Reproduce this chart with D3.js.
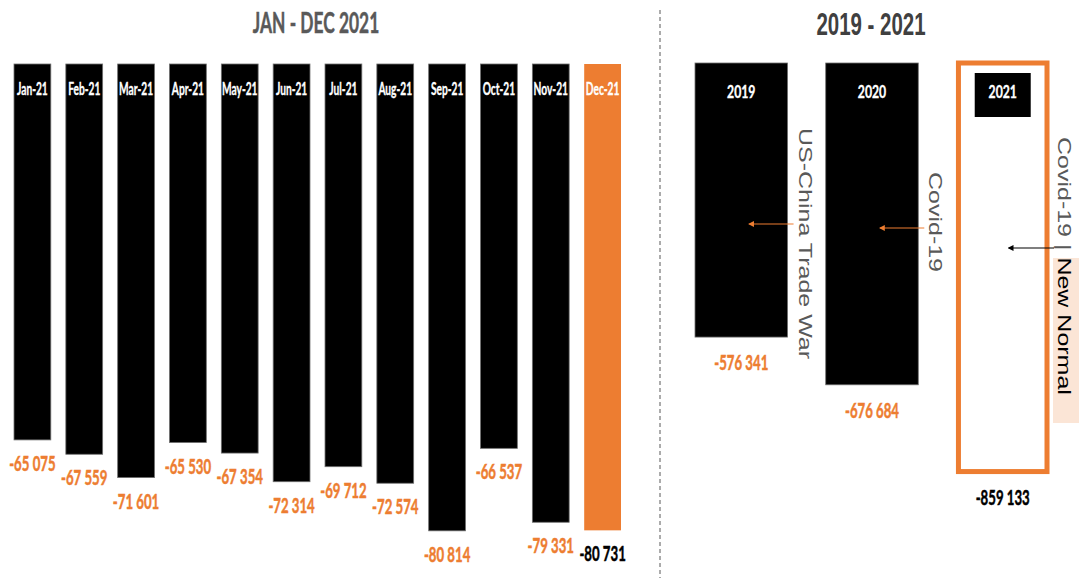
<!DOCTYPE html>
<html>
<head>
<meta charset="utf-8">
<script src="https://cdn.jsdelivr.net/npm/d3@7"></script>
<style>
  body { margin: 0; background: #fff; }
  svg { display: block; }
</style>
</head>
<body>
<div id="chart"></div>
<script>
// monthly values, Jan - Dec 2021
let months = ['Jan-21', 'Feb-21', 'Mar-21', 'Apr-21', 'May-21', 'Jun-21', 'Jul-21', 'Aug-21', 'Sep-21', 'Oct-21', 'Nov-21', 'Dec-21'];
let monthValues = [-65075, -67559, -71601, -65530, -67354, -72314, -69712, -72574, -80814, -66537, -79331, -80731];

// yearly totals
let years = ['2019', '2020', '2021'];
let yearValues = [-576341, -676684, -859133];
let yearNotes = ['US-China Trade War', 'Covid-19', 'Covid-19 | '];

let width = 1079;
let height = 578;
let orange = '#ED7D31';

let fmt = v => '-' + d3.format(',')(Math.abs(v)).replace(/,/g, ' ');

let svg = d3.select('#chart')
  .append('svg')
  .attr('width', width)
  .attr('height', height);

// squeezed bold text, like the narrow font of the original
function label(g, x, y, txt, sx, size, color, sw) {
  return g.append('text')
    .attr('transform', `translate(${x},${y}) scale(${sx},1)`)
    .attr('text-anchor', 'middle')
    .style('font-family', 'Lato, sans-serif')
    .style('font-weight', 'bold')
    .style('font-size', size + 'px')
    .attr('fill', color)
    .attr('stroke', color)
    .attr('stroke-width', sw === undefined ? 0.5 : sw)
    .text(txt);
}

// ---- left panel ----
let x1 = d3.scaleBand().domain(months).range([14, 621]).paddingInner(0.29).paddingOuter(0);
let y1 = d3.scaleLinear().domain([0, -85000]).range([64, 555]);

let left = svg.append('g');

label(left, 316, 33, 'JAN - DEC 2021', 0.62, 28, '#595959');

let mBars = left.selectAll('g.month')
  .data(months.map((m, i) => ({ m: m, v: monthValues[i], last: i === months.length - 1 })))
  .enter()
  .append('g')
  .attr('class', 'month');

mBars.append('rect')
  .attr('x', d => x1(d.m))
  .attr('y', y1(0))
  .attr('width', x1.bandwidth())
  .attr('height', d => y1(d.v) - y1(0))
  .attr('fill', d => d.last ? orange : '#000')
  .attr('stroke', d => d.last ? 'none' : '#6f6f6f')
  .attr('stroke-width', 0.8);

mBars.each(function (d) {
  let g = d3.select(this);
  let cx = x1(d.m) + x1.bandwidth() / 2;
  label(g, cx, 95, d.m, 0.6, 17, '#fff', 0.35);
  label(g, cx, y1(d.v) + 31, fmt(d.v), 0.66, 20, d.last ? '#000' : orange);
});

// divider
svg.append('line')
  .attr('x1', 660).attr('x2', 660)
  .attr('y1', 10).attr('y2', height)
  .attr('stroke', '#595959')
  .attr('stroke-width', 1)
  .attr('stroke-dasharray', '4,3');

// ---- right panel ----
let x2 = d3.scaleBand().domain(years).range([695, 1049]).paddingInner(0.292).paddingOuter(0);
let y2 = d3.scaleLinear().domain([0, -900000]).range([63, 491]);

let right = svg.append('g');

right.append('text')
  .attr('transform', 'translate(871,35) scale(0.66,1)')
  .attr('text-anchor', 'middle')
  .style('font-family', '"Liberation Sans", Arial, sans-serif')
  .style('font-weight', 'bold')
  .style('font-size', '31px')
  .attr('fill', '#404040')
  .text('2019 - 2021');

let defs = svg.append('defs');
[['arrO', orange], ['arrK', '#000']].forEach(a => {
  defs.append('marker')
    .attr('id', a[0])
    .attr('viewBox', '0 0 10 10')
    .attr('refX', 8).attr('refY', 5)
    .attr('markerWidth', 5).attr('markerHeight', 5)
    .attr('orient', 'auto')
    .append('path')
    .attr('d', 'M0,0 L10,5 L0,10 Z')
    .attr('fill', a[1]);
});

let yBars = right.selectAll('g.year')
  .data(years.map((yr, i) => ({ yr: yr, v: yearValues[i], note: yearNotes[i], last: i === years.length - 1 })))
  .enter()
  .append('g')
  .attr('class', 'year');

yBars.append('rect')
  .attr('x', d => d.last ? x2(d.yr) + 2 : x2(d.yr))
  .attr('y', y2(0))
  .attr('width', d => d.last ? x2.bandwidth() - 4 : x2.bandwidth())
  .attr('height', d => y2(d.v) - y2(0))
  .attr('fill', d => d.last ? '#fff' : '#000')
  .attr('stroke', d => d.last ? orange : '#6f6f6f')
  .attr('stroke-width', d => d.last ? 5 : 0.8);

yBars.filter(d => d.last)
  .append('rect')
  .attr('x', d => x2(d.yr) + x2.bandwidth() / 2 - 28)
  .attr('y', 73)
  .attr('width', 56)
  .attr('height', 44)
  .attr('fill', '#000');

// arrow y positions and note start positions (layout)
let arrowY = [224, 228, 248];
let noteY = [128, 172, 137];

yBars.each(function (d, i) {
  let g = d3.select(this);
  let cx = x2(d.yr) + x2.bandwidth() / 2;
  let xr = x2(d.yr) + x2.bandwidth();
  label(g, cx, 98, d.yr, 0.72, 17, '#fff', 0.35);
  label(g, cx, y2(d.v) + 33, fmt(d.v), 0.66, 20, d.last ? '#000' : orange);

  let tx = xr + (d.last ? 9 : 11);
  if (d.last) {
    g.append('rect')
      .attr('x', tx - 5)
      .attr('y', 258)
      .attr('width', width - tx + 5)
      .attr('height', 165)
      .attr('fill', '#FBE5D6');
  }
  let t = g.append('text')
    .attr('transform', `translate(${tx},${noteY[i]}) rotate(90) scale(1,0.74)`)
    .style('font-family', '"Liberation Sans", Arial, sans-serif')
    .style('font-size', '25px')
    .attr('fill', '#595959');
  t.append('tspan').text(d.note);
  if (d.last) t.append('tspan').attr('fill', '#000').text('New Normal');

  g.append('line')
    .attr('x1', d.last ? xr + 5 : xr + 6)
    .attr('x2', cx + (d.last ? 6 : 8))
    .attr('y1', arrowY[i]).attr('y2', arrowY[i])
    .attr('stroke', d.last ? '#000' : orange)
    .attr('stroke-width', 1.2)
    .attr('marker-end', d.last ? 'url(#arrK)' : 'url(#arrO)');
});
</script>
</body>
</html>
